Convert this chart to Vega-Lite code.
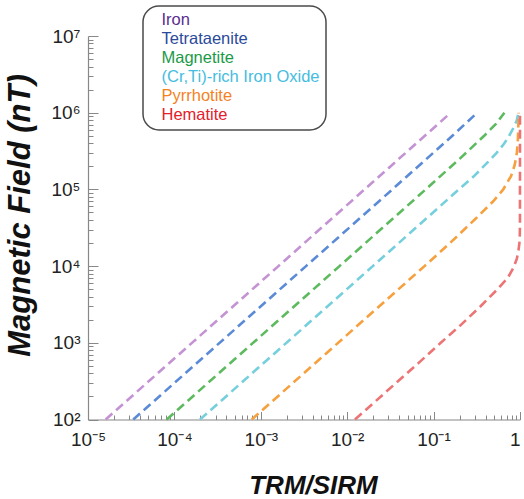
{
  "$schema": "https://vega.github.io/schema/vega-lite/v6.json",
  "width": 432,
  "height": 383.5,
  "autosize": {"type": "none"},
  "padding": {"left": 88, "top": 36, "right": 4, "bottom": 79.5},
  "config": {"view": {"stroke": null}, "font": "Liberation Sans"},
  "data": {"values": [
    {"m": "Iron", "i": 1, "x": 0.000016, "B": 100},
    {"m": "Iron", "i": 2, "x": 0.0016, "B": 10000},
    {"m": "Iron", "i": 3, "x": 0.158, "B": 1000000},
    {"m": "Tetrataenite", "i": 1, "x": 0.0000334, "B": 100},
    {"m": "Tetrataenite", "i": 2, "x": 0.00334, "B": 10000},
    {"m": "Tetrataenite", "i": 3, "x": 0.0333, "B": 100000},
    {"m": "Tetrataenite", "i": 4, "x": 0.165, "B": 500000},
    {"m": "Tetrataenite", "i": 5, "x": 0.32, "B": 1000000},
    {"m": "Magnetite", "i": 1, "x": 0.0000815, "B": 100},
    {"m": "Magnetite", "i": 2, "x": 0.00815, "B": 10000},
    {"m": "Magnetite", "i": 3, "x": 0.081, "B": 100000},
    {"m": "Magnetite", "i": 4, "x": 0.2, "B": 250000},
    {"m": "Magnetite", "i": 5, "x": 0.385, "B": 500000},
    {"m": "Magnetite", "i": 6, "x": 0.53, "B": 720000},
    {"m": "Magnetite", "i": 7, "x": 0.66, "B": 1000000},
    {"m": "(Cr,Ti)-rich Iron Oxide", "i": 1, "x": 0.000198, "B": 100},
    {"m": "(Cr,Ti)-rich Iron Oxide", "i": 2, "x": 0.0198, "B": 10000},
    {"m": "(Cr,Ti)-rich Iron Oxide", "i": 3, "x": 0.118, "B": 60000},
    {"m": "(Cr,Ti)-rich Iron Oxide", "i": 4, "x": 0.2, "B": 102000},
    {"m": "(Cr,Ti)-rich Iron Oxide", "i": 5, "x": 0.29, "B": 147000},
    {"m": "(Cr,Ti)-rich Iron Oxide", "i": 6, "x": 0.43, "B": 230000},
    {"m": "(Cr,Ti)-rich Iron Oxide", "i": 7, "x": 0.53, "B": 295000},
    {"m": "(Cr,Ti)-rich Iron Oxide", "i": 8, "x": 0.65, "B": 390000},
    {"m": "(Cr,Ti)-rich Iron Oxide", "i": 9, "x": 0.74, "B": 486000},
    {"m": "(Cr,Ti)-rich Iron Oxide", "i": 10, "x": 0.85, "B": 650000},
    {"m": "(Cr,Ti)-rich Iron Oxide", "i": 11, "x": 0.92, "B": 800000},
    {"m": "(Cr,Ti)-rich Iron Oxide", "i": 12, "x": 0.96, "B": 1000000},
    {"m": "Pyrrhotite", "i": 1, "x": 0.000785, "B": 100},
    {"m": "Pyrrhotite", "i": 2, "x": 0.0785, "B": 10000},
    {"m": "Pyrrhotite", "i": 3, "x": 0.155, "B": 20000},
    {"m": "Pyrrhotite", "i": 4, "x": 0.31, "B": 42000},
    {"m": "Pyrrhotite", "i": 5, "x": 0.49, "B": 70000},
    {"m": "Pyrrhotite", "i": 6, "x": 0.64, "B": 100000},
    {"m": "Pyrrhotite", "i": 7, "x": 0.79, "B": 150000},
    {"m": "Pyrrhotite", "i": 8, "x": 0.87, "B": 210000},
    {"m": "Pyrrhotite", "i": 9, "x": 0.92, "B": 300000},
    {"m": "Pyrrhotite", "i": 10, "x": 0.945, "B": 450000},
    {"m": "Pyrrhotite", "i": 11, "x": 0.958, "B": 700000},
    {"m": "Pyrrhotite", "i": 12, "x": 0.965, "B": 1000000},
    {"m": "Hematite", "i": 1, "x": 0.0123, "B": 100},
    {"m": "Hematite", "i": 2, "x": 0.0697, "B": 568},
    {"m": "Hematite", "i": 3, "x": 0.121, "B": 1000},
    {"m": "Hematite", "i": 4, "x": 0.2, "B": 1650},
    {"m": "Hematite", "i": 5, "x": 0.35, "B": 3000},
    {"m": "Hematite", "i": 6, "x": 0.54, "B": 4900},
    {"m": "Hematite", "i": 7, "x": 0.72, "B": 7000},
    {"m": "Hematite", "i": 8, "x": 0.84, "B": 9500},
    {"m": "Hematite", "i": 9, "x": 0.92, "B": 12500},
    {"m": "Hematite", "i": 10, "x": 0.96, "B": 16000},
    {"m": "Hematite", "i": 11, "x": 0.985, "B": 20000},
    {"m": "Hematite", "i": 12, "x": 0.995, "B": 26000},
    {"m": "Hematite", "i": 13, "x": 0.999, "B": 40000},
    {"m": "Hematite", "i": 14, "x": 1.0, "B": 1000000}
  ]},
  "resolve": {"axis": {"x": "independent", "y": "independent"}},
  "layer": [
    {
      "mark": {"type": "line", "strokeDash": [9, 5], "strokeWidth": 2.6, "clip": false},
      "encoding": {
        "x": {"field": "x", "type": "quantitative",
          "scale": {"type": "log", "domain": [0.00001, 1], "nice": false},
          "axis": {"orient": "bottom", "values": [0.00001, 0.0001, 0.001, 0.01, 0.1, 1],
            "labelExpr": "datum.value >= 1 ? '1' : '10' + (round(log(datum.value)/LN10) < 0 ? '⁻' : '') + ['⁰','¹','²','³','⁴','⁵','⁶','⁷','⁸','⁹'][abs(round(log(datum.value)/LN10))]",
            "tickSize": -8, "tickColor": "#888", "tickWidth": 1, "domainColor": "#888", "domainWidth": 1.2,
            "labelFontSize": 19, "labelColor": "#222", "labelPadding": 19, "labelBaseline": "top", "labelFlush": false, "labelOverlap": false,
            "labelAlign": {"condition": {"test": "datum.value >= 1", "value": "right"}, "value": "center"},
            "grid": false,
            "title": "TRM/SIRM", "titleFontSize": 26, "titleFontStyle": "italic", "titleFontWeight": "bold", "titleColor": "#111",
            "titleX": 225, "titleY": 74, "titleAlign": "center", "titleBaseline": "alphabetic", "titleAngle": 0}},
        "y": {"field": "B", "type": "quantitative",
          "scale": {"type": "log", "domain": [100, 10000000], "nice": false},
          "axis": {"orient": "left", "values": [100, 1000, 10000, 100000, 1000000, 10000000],
            "labelExpr": "'10' + ['⁰','¹','²','³','⁴','⁵','⁶','⁷','⁸','⁹'][round(log(datum.value)/LN10)]",
            "tickSize": -10, "tickColor": "#888", "tickWidth": 1, "domainColor": "#888", "domainWidth": 1.2,
            "labelFontSize": 19, "labelColor": "#222", "labelPadding": 18, "labelBaseline": "middle", "labelFlush": false, "labelOverlap": false,
            "grid": false,
            "title": "Magnetic Field (nT)", "titleFontSize": 31, "titleFontStyle": "italic", "titleFontWeight": "bold", "titleColor": "#111",
            "titleX": -59, "titleY": 179, "titleAlign": "center", "titleBaseline": "alphabetic", "titleAngle": -90,
            "encode": {"labels": {"update": {"dy": {"signal": "datum.value <= 100 ? -6 : 4"}}}}}},
        "color": {"field": "m", "type": "nominal",
          "scale": {"domain": ["Iron", "Tetrataenite", "Magnetite", "(Cr,Ti)-rich Iron Oxide", "Pyrrhotite", "Hematite"],
            "range": ["#c493d3", "#5b8bd6", "#5dba5f", "#76cfdc", "#f6a03e", "#ec7474"]},
          "legend": {"orient": "none", "legendX": 55, "legendY": -30, "title": null,
            "symbolType": "circle", "symbolSize": 0, "symbolOpacity": 0, "symbolStrokeWidth": 0, "labelOffset": -4,
            "labelFontSize": 16.5, "labelLimit": 300, "rowPadding": 2, "padding": 6,
            "strokeColor": "#4a4a4a", "cornerRadius": 16, "fillColor": "white",
            "encode": {
              "legend": {"update": {"strokeWidth": {"value": 1.5}}},
              "labels": {"update": {"fill": {"signal": "datum.value === 'Iron' ? '#5b2d8e' : datum.value === 'Tetrataenite' ? '#2b4a9b' : datum.value === 'Magnetite' ? '#1c9a48' : datum.value === 'Pyrrhotite' ? '#f4821f' : datum.value === 'Hematite' ? '#e4202b' : '#46bde0'"}}}}}},
        "order": {"field": "i", "type": "quantitative"}
      }
    },
    {
      "mark": {"type": "point", "opacity": 0},
      "encoding": {
        "x": {"field": "x", "type": "quantitative",
          "scale": {"type": "log", "domain": [0.00001, 1], "nice": false},
          "axis": {"orient": "bottom", "values": [0.00002,0.00003,0.00004,0.00005,0.00006,0.00007,0.00008,0.00009,0.0002,0.0003,0.0004,0.0005,0.0006,0.0007,0.0008,0.0009,0.002,0.003,0.004,0.005,0.006,0.007,0.008,0.009,0.02,0.03,0.04,0.05,0.06,0.07,0.08,0.09,0.2,0.3,0.4,0.5,0.6,0.7,0.8,0.9],
            "labels": false, "domain": false, "grid": false, "title": null, "tickSize": -4.5, "tickColor": "#888", "tickWidth": 1}},
        "y": {"field": "B", "type": "quantitative",
          "scale": {"type": "log", "domain": [100, 10000000], "nice": false},
          "axis": {"orient": "left", "values": [200,300,400,500,600,700,800,900,2000,3000,4000,5000,6000,7000,8000,9000,20000,30000,40000,50000,60000,70000,80000,90000,200000,300000,400000,500000,600000,700000,800000,900000,2000000,3000000,4000000,5000000,6000000,7000000,8000000,9000000],
            "labels": false, "domain": false, "grid": false, "title": null, "tickSize": -5, "tickColor": "#888", "tickWidth": 1}}
      }
    }
  ]
}
